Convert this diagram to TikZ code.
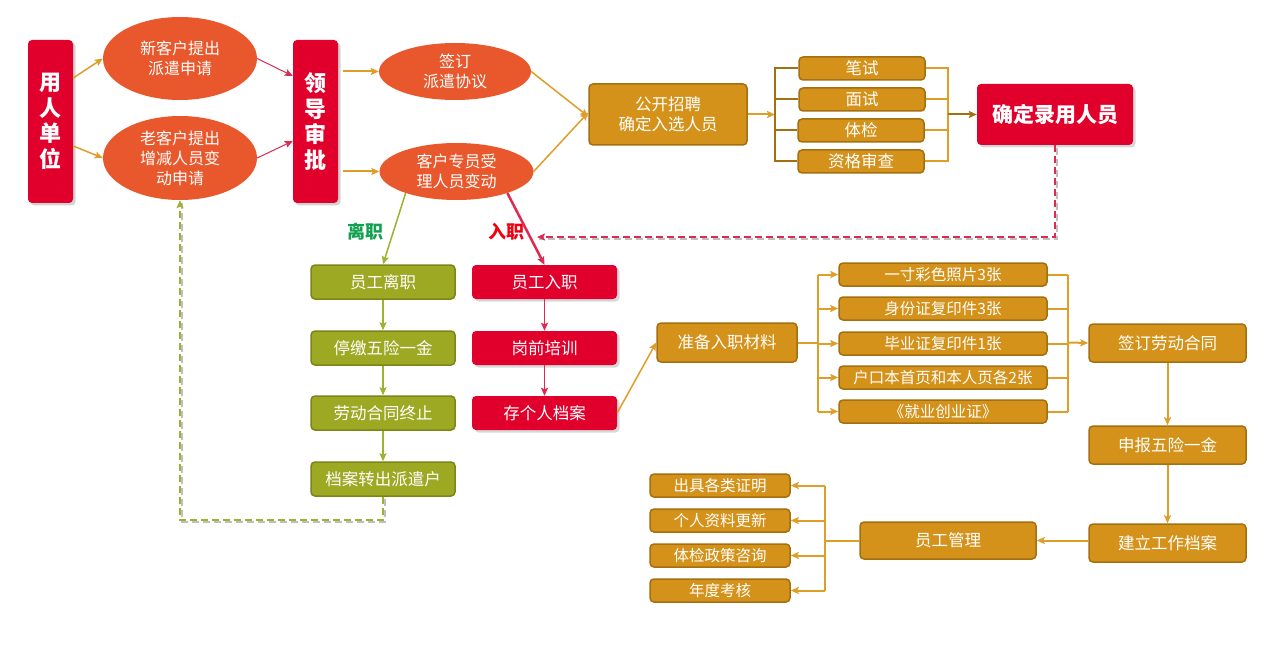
\documentclass[tikz,border=0pt]{standalone}
\usepackage{fontspec}
\setmainfont{Noto Sans CJK SC}
\usetikzlibrary{shapes.geometric,shadows,arrows.meta}
\definecolor{ored}{HTML}{E8582C}
\definecolor{rred}{HTML}{E1002B}
\definecolor{gold}{HTML}{D4921A}
\definecolor{goldd}{HTML}{A4700F}
\definecolor{goldl}{HTML}{DE9E28}
\definecolor{olive}{HTML}{9DA823}
\definecolor{olived}{HTML}{7C8518}
\definecolor{olarr}{HTML}{A0B030}
\definecolor{crim}{HTML}{DC2A50}
\definecolor{lzgreen}{HTML}{12A150}
\definecolor{rzred}{HTML}{F00010}
\tikzset{
  ell/.style={ellipse, fill=ored, text=white, align=center, inner sep=0pt, font=\fontsize{16}{20}\selectfont},
  rbar/.style={rectangle, rounded corners=4, fill=rred, text=white, align=center, inner sep=0pt,
     minimum width=45, minimum height=163, font=\bfseries\fontsize{22}{25.5}\selectfont,
     drop shadow={shadow xshift=2.5pt, shadow yshift=-2.5pt, opacity=0.35}},
  rbox/.style={rectangle, rounded corners=4, fill=rred, text=white, align=center, inner sep=0pt,
     font=\fontsize{16.5}{20}\selectfont, drop shadow={shadow xshift=2.5pt, shadow yshift=-2.5pt, opacity=0.3}},
  gbox/.style={rectangle, rounded corners=4, fill=gold, draw=goldd, line width=1.5, text=white, align=center, inner sep=0pt,
     font=\fontsize{16.5}{20}\selectfont},
  obox/.style={rectangle, rounded corners=4, fill=olive, draw=olived, line width=1.5, text=white, align=center, inner sep=0pt,
     font=\fontsize{16.5}{20}\selectfont},
  tip/.style={-{Stealth[length=8pt,width=7pt,inset=1.5pt]}},
  garr/.style={tip, draw=goldl, line width=2},
  gline/.style={draw=goldl, line width=2},
  gdline/.style={draw=goldd, line width=2},
  oarr/.style={tip, draw=olarr, line width=1.5},
  carr/.style={tip, draw=crim, line width=1},
  dshadow/.style={draw=black!25, line width=2, dash pattern=on 7pt off 4pt},
}
\begin{document}
\begin{tikzpicture}[x=1pt,y=-1pt]
\fill[white] (0,0) rectangle (1277,671);
\useasboundingbox (0,0) rectangle (1277,671);

% top row
\node[rbar] (yr) at (50.5,121.5) {用\\人\\单\\位};
\node[ell, minimum width=154, minimum height=83] (e1) at (180,58.5) {新客户提出\\派遣申请};
\node[ell, minimum width=154, minimum height=84] (e2) at (180,158) {老客户提出\\增减人员变\\动申请};
\node[rbar] (ld) at (315.5,121.5) {领\\导\\审\\批};
\node[ell, minimum width=152, minimum height=57] (e3) at (455,71.5) {签订\\派遣协议};
\node[ell, minimum width=154, minimum height=57] (e4) at (456.5,171.5) {客户专员受\\理人员变动};

\draw[garr, line width=1.5] (yr.east |- 0,78) -- (e1.west);
\draw[garr, line width=1.5] (yr.east |- 0,146) -- (e2.west);
\draw[carr] (e1.east) -- (ld.west |- 0,76);
\draw[carr] (e2.east) -- (ld.west |- 0,141);
\draw[garr] (ld.east |- e3.west) ++(5,0) -- (e3.west);
\draw[garr] (ld.east |- e4.west) ++(5,0) -- (e4.west);

\node[gbox, minimum width=158, minimum height=61] (gk) at (668,114.5) {公开招聘\\确定入选人员};
\draw[garr, line width=1.5] (e3.east) -- ([yshift=-2]gk.west);
\draw[garr, line width=1.5] (e4.east) -- ([yshift=2]gk.west);

\node[gbox, minimum width=126, minimum height=23] (t1) at (862,68.5) {笔试};
\node[gbox, minimum width=126, minimum height=23] (t2) at (862,99.5) {面试};
\node[gbox, minimum width=126, minimum height=23] (t3) at (861,130.5) {体检};
\node[gbox, minimum width=126, minimum height=23] (t4) at (861,161.5) {资格审查};
\node[rbox, minimum width=156, minimum height=61, font=\bfseries\fontsize{21}{24}\selectfont] (qd) at (1055,114.5) {确定录用人员};

\coordinate (bl) at (775,114.5);
\coordinate (br) at (948,114.5);
\draw[garr] (gk.east) -- (bl);
\draw[gdline] (t1.west) -- (t1.west -| bl) -- (t4.west -| bl) -- (t4.west);
\draw[gdline] (t2.west) -- (t2.west -| bl);
\draw[gdline] (t3.west) -- (t3.west -| bl);
\draw[gline] (t1.east) -- (t1.east -| br) -- (t4.east -| br) -- (t4.east);
\draw[gline] (t2.east) -- (t2.east -| br);
\draw[gline] (t3.east) -- (t3.east -| br);
\draw[tip, draw=goldd, line width=2] (br) -- (qd.west);

% labels
\node[text=lzgreen, font=\bfseries\fontsize{18}{20}\selectfont] (lz) at (365.5,232) {离职};
\node[text=rzred, font=\bfseries\fontsize{18}{20}\selectfont] (rz) at (506.5,232) {入职};

% columns
\node[obox, minimum width=144, minimum height=34] (o1) at (383,282) {员工离职};
\node[obox, minimum width=144, minimum height=34] (o2) at (383,348) {停缴五险一金};
\node[obox, minimum width=144, minimum height=34] (o3) at (383,413) {劳动合同终止};
\node[obox, minimum width=144, minimum height=34] (o4) at (383,479) {档案转出派遣户};

\node[rbox, minimum width=145, minimum height=34] (r1) at (544.5,282) {员工入职};
\node[rbox, minimum width=145, minimum height=34] (r2) at (544.5,348) {岗前培训};
\node[rbox, minimum width=145, minimum height=34] (r3) at (544.5,413) {存个人档案};

\draw[oarr] (e4.203) -- (o1.north);
\draw[tip, draw=crim, line width=2.5] (e4.-23) -- (r1.north);
\draw[oarr] (o1.south) -- (o2.north);
\draw[oarr] (o2.south) -- (o3.north);
\draw[oarr] (o3.south) -- (o4.north);
\draw[carr, line width=1.5] (r1.south) -- (r2.north);
\draw[carr, line width=1.5] (r2.south) -- (r3.north);

\coordinate (rdend) at (537,237);
\draw[dshadow, transform canvas={xshift=2pt,yshift=-2.5pt}] (qd.south) -- (qd.south |- rdend) -- (rdend);
\draw[dshadow, transform canvas={xshift=2pt,yshift=-2.5pt}] (o4.south) -- ++(0,23) -| (e2.south);
\draw[tip, draw=crim, line width=1.8, dash pattern=on 7pt off 4pt] (qd.south) -- (qd.south |- rdend) -- (rdend);
\draw[tip, draw=olarr, line width=1.8, dash pattern=on 7pt off 4pt] (o4.south) -- ++(0,23) -| (e2.south);

% materials
\node[gbox, minimum width=140, minimum height=39] (zb) at (727,342.5) {准备入职材料};
\draw[garr, line width=1.5] (r3.east) -- (zb.west);

\tikzset{mbox/.style={gbox, minimum width=208, minimum height=23, font=\fontsize{15.5}{18}\selectfont}}
\node[mbox] (m1) at (943,274.5) {一寸彩色照片3张};
\node[mbox] (m2) at (943,308.5) {身份证复印件3张};
\node[mbox] (m3) at (943,343.5) {毕业证复印件1张};
\node[mbox] (m4) at (943,377.5) {户口本首页和本人页各2张};
\node[mbox] (m5) at (943,411.5) {《就业创业证》};

\coordinate (ml) at (818,342.5);
\coordinate (mr) at (1068,342.5);
\draw[gline] (zb.east) -- (ml);
\draw[gline] (m1.west -| ml) -- (m5.west -| ml);
\foreach \m in {m1,m2,m3,m4,m5} {
  \draw[garr] (\m.west -| ml) -- (\m.west);
  \draw[gline] (\m.east) -- (\m.east -| mr);
}
\draw[gline] (m1.east -| mr) -- (m5.east -| mr);

\node[gbox, minimum width=157, minimum height=38] (qh) at (1167.5,343) {签订劳动合同};
\node[gbox, minimum width=157, minimum height=38] (sb) at (1167.5,445) {申报五险一金};
\node[gbox, minimum width=157, minimum height=38] (jl) at (1167.5,543) {建立工作档案};
\draw[garr] (mr) -- (qh.west);
\draw[garr] (qh.south) -- (sb.north);
\draw[garr] (sb.south) -- (jl.north);

\node[gbox, minimum width=176, minimum height=37] (yg) at (948,540.5) {员工管理};
\draw[garr] (jl.west |- yg.east) -- (yg.east);

\tikzset{cbox/.style={gbox, minimum width=140, minimum height=23, font=\fontsize{15.5}{18}\selectfont}}
\node[cbox] (c1) at (720,485.5) {出具各类证明};
\node[cbox] (c2) at (720,520.5) {个人资料更新};
\node[cbox] (c3) at (720,555.5) {体检政策咨询};
\node[cbox] (c4) at (720,590.5) {年度考核};

\coordinate (cl) at (825,540.5);
\draw[gline] (yg.west) -- (cl);
\draw[gline] (c1.east -| cl) -- (c4.east -| cl);
\foreach \c in {c1,c2,c3,c4} {
  \draw[garr] (\c.east -| cl) -- (\c.east);
}
\end{tikzpicture}
\end{document}
